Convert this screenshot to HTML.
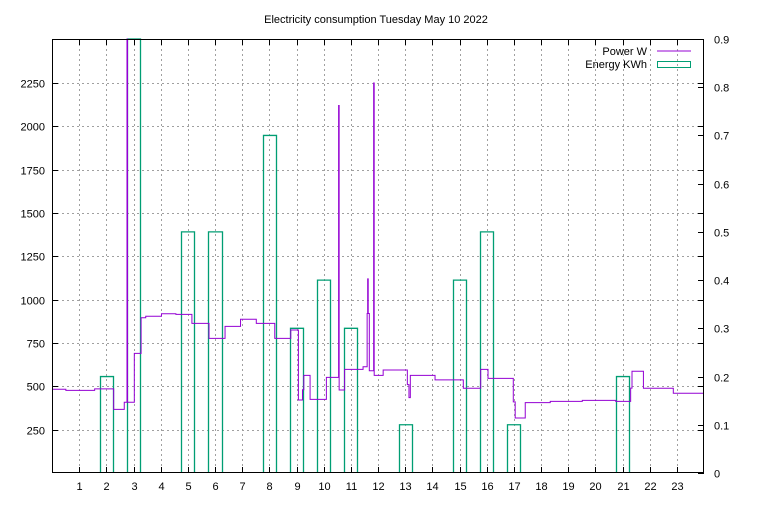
<!DOCTYPE html>
<html><head><meta charset="utf-8"><style>
html,body{margin:0;padding:0;background:#fff}
svg text{font-family:"Liberation Sans","DejaVu Sans",sans-serif;font-size:11px;fill:#000}
</style></head><body>
<svg id="chart" width="768" height="500" xmlns="http://www.w3.org/2000/svg">
<rect x="0" y="0" width="768" height="500" fill="#fff"/>
<text x="376" y="23" text-anchor="middle">Electricity consumption Tuesday May 10 2022</text>
<g id="grid"></g>
<g id="bars"></g>
<g id="line"></g>
<g id="axes"></g>
<g>
<text x="647" y="55" text-anchor="end">Power W</text>
<line x1="657" y1="51" x2="691" y2="51" stroke="#9400d3" stroke-width="1"/>
<text x="647" y="68" text-anchor="end">Energy KWh</text>
<rect x="657.5" y="61.5" width="33" height="6" fill="none" stroke="#009e73" stroke-width="1"/>
</g>
</svg>
<script>
const xTicks=[1,2,3,4,5,6,7,8,9,10,11,12,13,14,15,16,17,18,19,20,21,22,23];
const yTicks=[250,500,750,1000,1250,1500,1750,2000,2250];
const y2Ticks=[0,0.1,0.2,0.3,0.4,0.5,0.6,0.7,0.8,0.9];
const barHours=[2,3,5,6,8,9,10,11,13,15,16,17,21];
const barEnergy=[0.2,1.0,0.5,0.5,0.7,0.3,0.4,0.3,0.1,0.4,0.5,0.1,0.2];
const powerTimes=[0,0.51,1.57,2.27,2.66,2.76,2.78,3.03,3.28,3.45,4.03,4.56,5.15,5.78,6.37,6.94,7.52,8.20,8.79,9.07,9.22,9.27,9.5,10.1,10.55,10.57,10.77,11.45,11.6,11.62,11.64,11.68,11.84,11.86,12.19,13.08,13.14,13.19,14.1,15.14,15.78,16.05,16.98,17.05,17.42,18.34,19.52,20.75,21.3,21.35,21.77,22.87,23.91];
const powerValues=[483,477,485,367,408,2900,408,690,896,904,919,915,863,777,846,887,863,777,825,421,480,563,425,552,2120,479,598,613,920,1120,920,590,2250,563,594,510,435,563,537,489,598,546,410,317,406,413,419,413,490,587,489,460,460];
const L=52,R=704,T=39,B=473;
const xs=h=>L+(h/24)*(R-L);
const ys=v=>B-v*(390/2250);
const y2s=v=>B-v*((B-T)/0.9);
const NS="http://www.w3.org/2000/svg";
function mk(tag,attrs,parent){const e=document.createElementNS(NS,tag);for(const k in attrs)e.setAttribute(k,attrs[k]);parent.appendChild(e);return e;}
const grid=document.getElementById('grid'),axes=document.getElementById('axes'),bars=document.getElementById('bars'),line=document.getElementById('line');
xTicks.forEach(h=>{const x=Math.round(xs(h))+0.5;
 const g=mk('line',{x1:x,y1:T,x2:x,y2:B,stroke:'#a0a0a0','stroke-dasharray':'2,3','stroke-width':1},grid);
 
 const t1=mk('line',{x1:x,y1:B,x2:x,y2:B-6,stroke:'#000'},axes);
 const t2=mk('line',{x1:x,y1:T,x2:x,y2:T+6,stroke:'#000'},axes);
 const tx=mk('text',{x:x,y:490,'text-anchor':'middle'},axes);tx.textContent=h;});
yTicks.forEach(v=>{const y=Math.round(ys(v))+0.5;
 const g=mk('line',{x1:L,y1:y,x2:R,y2:y,stroke:'#a0a0a0','stroke-dasharray':'2,3','stroke-width':1},grid);
 
 const t1=mk('line',{x1:L,y1:y,x2:L+6,y2:y,stroke:'#000'},axes);
 const t2=mk('line',{x1:R,y1:y,x2:R-6,y2:y,stroke:'#000'},axes);
 const tx=mk('text',{x:45,y:y+4,'text-anchor':'end'},axes);tx.textContent=v;});
y2Ticks.forEach(v=>{const y=Math.round(y2s(v))+0.5;
 const t=mk('line',{x1:R,y1:y,x2:R-6,y2:y,stroke:'#000'},axes);
 const tx=mk('text',{x:714,y:y+4,'text-anchor':'start'},axes);tx.textContent=v;});
barHours.forEach((h,i)=>{const x1=Math.round(xs(h-0.24))+0.5,x2=Math.round(xs(h+0.24))+0.5;const top=Math.max(T,y2s(barEnergy[i]));
 const p=mk('path',{d:`M${x1},${B}V${top}H${x2}V${B}`,fill:'none',stroke:'#009e73','stroke-width':1.3},bars);
 });
let d='';powerTimes.forEach((t,i)=>{const x=xs(t),y=Math.max(T,ys(powerValues[i]));
 if(i===0)d+=`M${x},${y}`;else d+=`H${x}V${y}`;});
d+=`H${xs(24)-1}`;
const pl=mk('path',{d:d,fill:'none',stroke:'#9400d3','stroke-width':1},line);

const fr=mk('rect',{x:L+0.5,y:T+0.5,width:R-L-1,height:B-T-1,fill:'none',stroke:'#000','stroke-width':1},axes);

</script>
</body></html>
